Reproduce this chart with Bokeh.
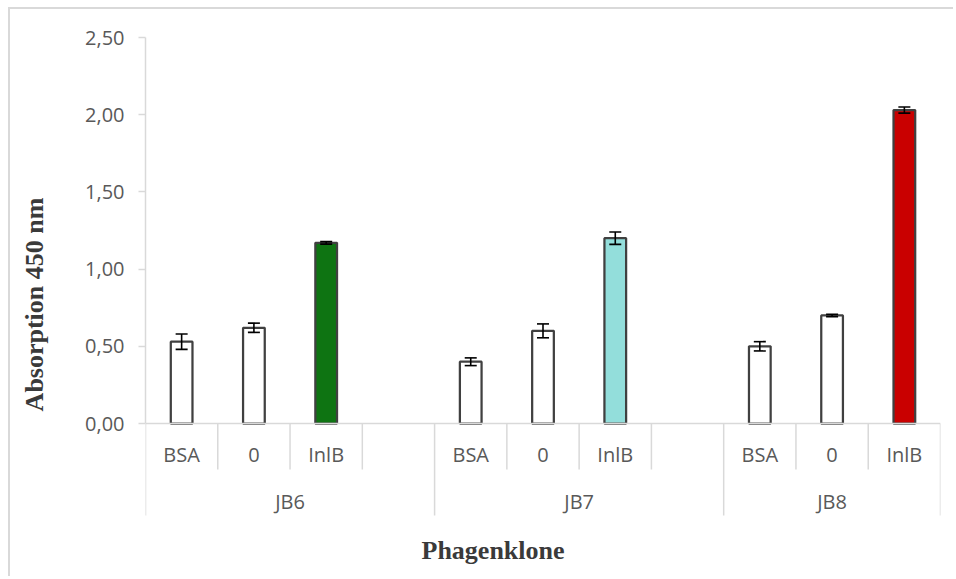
from bokeh.plotting import figure
from bokeh.models import Range1d, FixedTicker, CustomJSTickFormatter, ColumnDataSource, Whisker, TeeHead
from bokeh.core.properties import value
from bokeh.embed import file_html
from bokeh.resources import INLINE

# ---- data ----
groups = ["JB6", "JB7", "JB8"]
conditions = ["BSA", "0", "InlB"]
jb6_values = [0.53, 0.62, 1.17]
jb7_values = [0.40, 0.60, 1.20]
jb8_values = [0.50, 0.70, 2.03]
jb6_errors = [0.05, 0.03, 0.008]
jb7_errors = [0.025, 0.045, 0.04]
jb8_errors = [0.03, 0.008, 0.02]
inlb_colors = ["#0e7412", "#93dedb", "#c90000"]
y_ticks = [0.0, 0.5, 1.0, 1.5, 2.0, 2.5]
slots_per_group = [4, 4, 3]   # Excel leaves an empty category after JB6 and JB7

values = [jb6_values, jb7_values, jb8_values]
errors = [jb6_errors, jb7_errors, jb8_errors]

# ---- layout constants ----
PX = 154.4            # pixels per absorption unit
FRAME_BELOW = 155     # px of frame below y=0 (for category labels)
FRAME_ABOVE = 7       # px of frame above y=2.5
GRID = "#d9d9d9"
TXT = "#595959"
TITLE = "#3a3a3a"

n_slots = sum(slots_per_group)
p = figure(width=945, height=569,
           x_range=Range1d(0, n_slots),
           y_range=Range1d(-FRAME_BELOW / PX, 2.5 + FRAME_ABOVE / PX),
           output_backend="svg", toolbar_location=None,
           x_axis_location=None,
           min_border_left=135, min_border_right=15,
           min_border_top=21, min_border_bottom=0)
p.styles = {"margin-left": "8px", "margin-top": "7px",
            "border-left": "2px solid #d9d9d9", "border-top": "2px solid #d9d9d9"}
p.outline_line_color = None
p.xgrid.visible = False
p.ygrid.visible = False
p.background_fill_color = "white"
p.border_fill_color = "white"

# bars
xs, tops, ups, los, fills = [], [], [], [], []
sub_x, sub_t, grp_x = [], [], []
start = 0
group_edges = [0]
sub_edges = []
for g, name in enumerate(groups):
    n = slots_per_group[g]
    for j, cond in enumerate(conditions):
        cx = start + j + 0.5
        xs.append(cx)
        tops.append(values[g][j])
        ups.append(values[g][j] + errors[g][j])
        los.append(values[g][j] - errors[g][j])
        fills.append(inlb_colors[g] if cond == "InlB" else "white")
        sub_x.append(cx)
        sub_t.append(cond)
    grp_x.append(start + n / 2)
    for k in range(1, n):
        sub_edges.append(start + k)
    start += n
    group_edges.append(start)

src = ColumnDataSource(dict(x=xs, top=tops, upper=ups, lower=los, fill=fills))
p.vbar(x="x", top="top", bottom=0, width=0.30, source=src,
       fill_color="fill", line_color="#404040", line_width=2.25)

head = dict(size=12, line_width=1.6, line_color="black")
p.add_layout(Whisker(base="x", upper="upper", lower="lower", source=src,
                     level="overlay",
                     line_color="black", line_width=1.6,
                     upper_head=TeeHead(**head), lower_head=TeeHead(**head)))

# category axis line + separators
p.segment(x0=[0], y0=[0], x1=[n_slots], y1=[0], line_color=GRID, line_width=1.5)
p.segment(x0=sub_edges, y0=[0] * len(sub_edges), x1=sub_edges,
          y1=[-46 / PX] * len(sub_edges), line_color=GRID, line_width=1.5)
p.segment(x0=group_edges, y0=[0] * len(group_edges), x1=group_edges,
          y1=[-92 / PX] * len(group_edges), line_color=GRID, line_width=1.5)

p.text(x=sub_x, y=[0] * len(sub_x), text=sub_t, text_font=value("Open Sans"),
       text_font_size="20px", text_color=TXT, text_align="center",
       text_baseline="middle", y_offset=31)
p.text(x=grp_x, y=[0] * len(grp_x), text=groups, text_font=value("Open Sans"),
       text_font_size="20px", text_color=TXT, text_align="center",
       text_baseline="middle", y_offset=78)
p.text(x=[(492.5 - 145) / 72.27], y=[0], text=["Phagenklone"],
       text_font=value("Liberation Serif"), text_font_style="bold",
       text_font_size="26px", text_color=TITLE, text_align="center",
       text_baseline="middle", y_offset=127)

# y axis
ya = p.yaxis[0]
ya.bounds = (0, 2.5)
ya.ticker = FixedTicker(ticks=y_ticks, minor_ticks=[])
ya.formatter = CustomJSTickFormatter(code="return tick.toFixed(2).replace('.', ',');")
ya.axis_line_color = GRID
ya.axis_line_width = 1.5
ya.major_tick_line_color = GRID
ya.major_tick_line_width = 1.5
ya.major_tick_out = 7
ya.major_tick_in = 0
ya.minor_tick_line_color = None
ya.major_label_standoff = 14
ya.major_label_text_font = "Open Sans"
ya.major_label_text_font_size = "20px"
ya.major_label_text_color = TXT
ya.axis_label = "Absorption 450 nm"
ya.axis_label_text_font = "Liberation Serif"
ya.axis_label_text_font_style = "bold"
ya.axis_label_text_font_size = "26px"
ya.axis_label_text_color = TITLE
ya.axis_label_standoff = 33

open("out.html", "w").write(file_html(p, INLINE))
